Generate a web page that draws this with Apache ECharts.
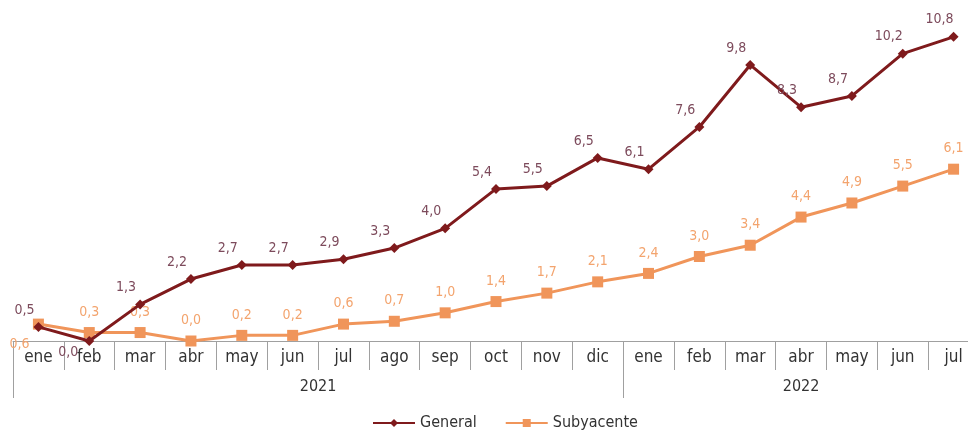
<!DOCTYPE html>
<html>
<head>
<meta charset="utf-8">
<script src="https://cdn.jsdelivr.net/npm/echarts@6/dist/echarts.min.js"></script>
<style>html,body{margin:0;padding:0;background:#fff;overflow:hidden;width:968px;height:430px;}#c{width:979px;height:430px;}</style>
</head>
<body>
<div id="c"></div>
<script>
var months = ['ene','feb','mar','abr','may','jun','jul','ago','sep','oct','nov','dic','ene','feb','mar','abr','may','jun','jul'];
var years = ['2021','2022'];
var monthsPerYear = [12, 7];
var general = [0.5,0.0,1.3,2.2,2.7,2.7,2.9,3.3,4.0,5.4,5.5,6.5,6.1,7.6,9.8,8.3,8.7,10.2,10.8];
var subyacente = [0.6,0.3,0.3,0.0,0.2,0.2,0.6,0.7,1.0,1.4,1.7,2.1,2.4,3.0,3.4,4.4,4.9,5.5,6.1];

var FONT = '"Liberation Sans Narrow", "Arial Narrow", "DejaVu Sans Condensed", "Liberation Sans", sans-serif';
function fmt(v){ return v.toFixed(1).replace('.', ','); }

var nHalf = months.length * 2;
var yearSlots = [];
for (var i = 0; i <= nHalf; i++) yearSlots.push('');
var yearLabelIdx = {}, yearTickIdx = {0: true};
var acc = 0;
for (var y = 0; y < years.length; y++) {
  var mid = acc * 2 + monthsPerYear[y];
  yearSlots[mid] = years[y];
  yearLabelIdx[mid] = true;
  acc += monthsPerYear[y];
  yearTickIdx[acc * 2] = true;
}

function buildData(arr, overrides) {
  return arr.map(function(v, i){
    if (overrides[i]) return { value: v, label: overrides[i] };
    return v;
  });
}

var genOverrides = { 1: { position: 'bottom', offset: [-21, -6] } };
var subOverrides = { 0: { position: 'bottom', offset: [-19, 3] } };

var chart = echarts.init(document.getElementById('c'));
chart.setOption({
  animation: false,
  textStyle: { fontFamily: FONT },
  grid: { left: 13, right: 0, top: 3, bottom: 89, containLabel: false },
  legend: {
    top: 410, left: 367,
    itemWidth: 42, itemHeight: 10, itemGap: 28,
    textStyle: { fontFamily: FONT, fontSize: 16, color: '#333' },
    data: ['General', 'Subyacente']
  },
  xAxis: [{
    type: 'category',
    data: months,
    boundaryGap: true,
    axisLine: { lineStyle: { color: '#a0a0a0', width: 1 } },
    axisTick: { show: true, length: 29, lineStyle: { color: '#a0a0a0' } },
    axisLabel: { fontSize: 17, color: '#333', margin: 8, interval: 0, fontFamily: FONT }
  }, {
    type: 'category',
    data: yearSlots,
    boundaryGap: false,
    position: 'bottom',
    axisLine: { show: false },
    axisTick: { show: true, length: 57, lineStyle: { color: '#a0a0a0' },
      interval: function(idx){ return !!yearTickIdx[idx]; } },
    axisLabel: { fontSize: 16, color: '#333', margin: 38, fontFamily: FONT,
      interval: function(idx){ return !!yearLabelIdx[idx]; } }
  }],
  yAxis: {
    type: 'value', min: 0, max: 12, show: false,
    splitLine: { show: false }
  },
  series: [{
    name: 'General',
    type: 'line',
    xAxisIndex: 0,
    data: buildData(general, genOverrides),
    symbol: 'diamond',
    symbolSize: 10,
    lineStyle: { color: '#7f1a1c', width: 3 },
    itemStyle: { color: '#7f1a1c' },
    label: {
      show: true, position: 'top', offset: [-14, 0],
      fontSize: 14, color: '#7d4b5c', fontFamily: FONT,
      formatter: function(p){ return fmt(p.value); }
    },
    z: 3
  }, {
    name: 'Subyacente',
    type: 'line',
    xAxisIndex: 0,
    data: buildData(subyacente, subOverrides),
    symbol: 'rect',
    symbolSize: 11,
    lineStyle: { color: '#f0955a', width: 3 },
    itemStyle: { color: '#f0955a' },
    label: {
      show: true, position: 'top', offset: [0, -3],
      fontSize: 14, color: '#f3a46e', fontFamily: FONT,
      formatter: function(p){ return fmt(p.value); }
    },
    z: 2
  }]
});
</script>
</body>
</html>
